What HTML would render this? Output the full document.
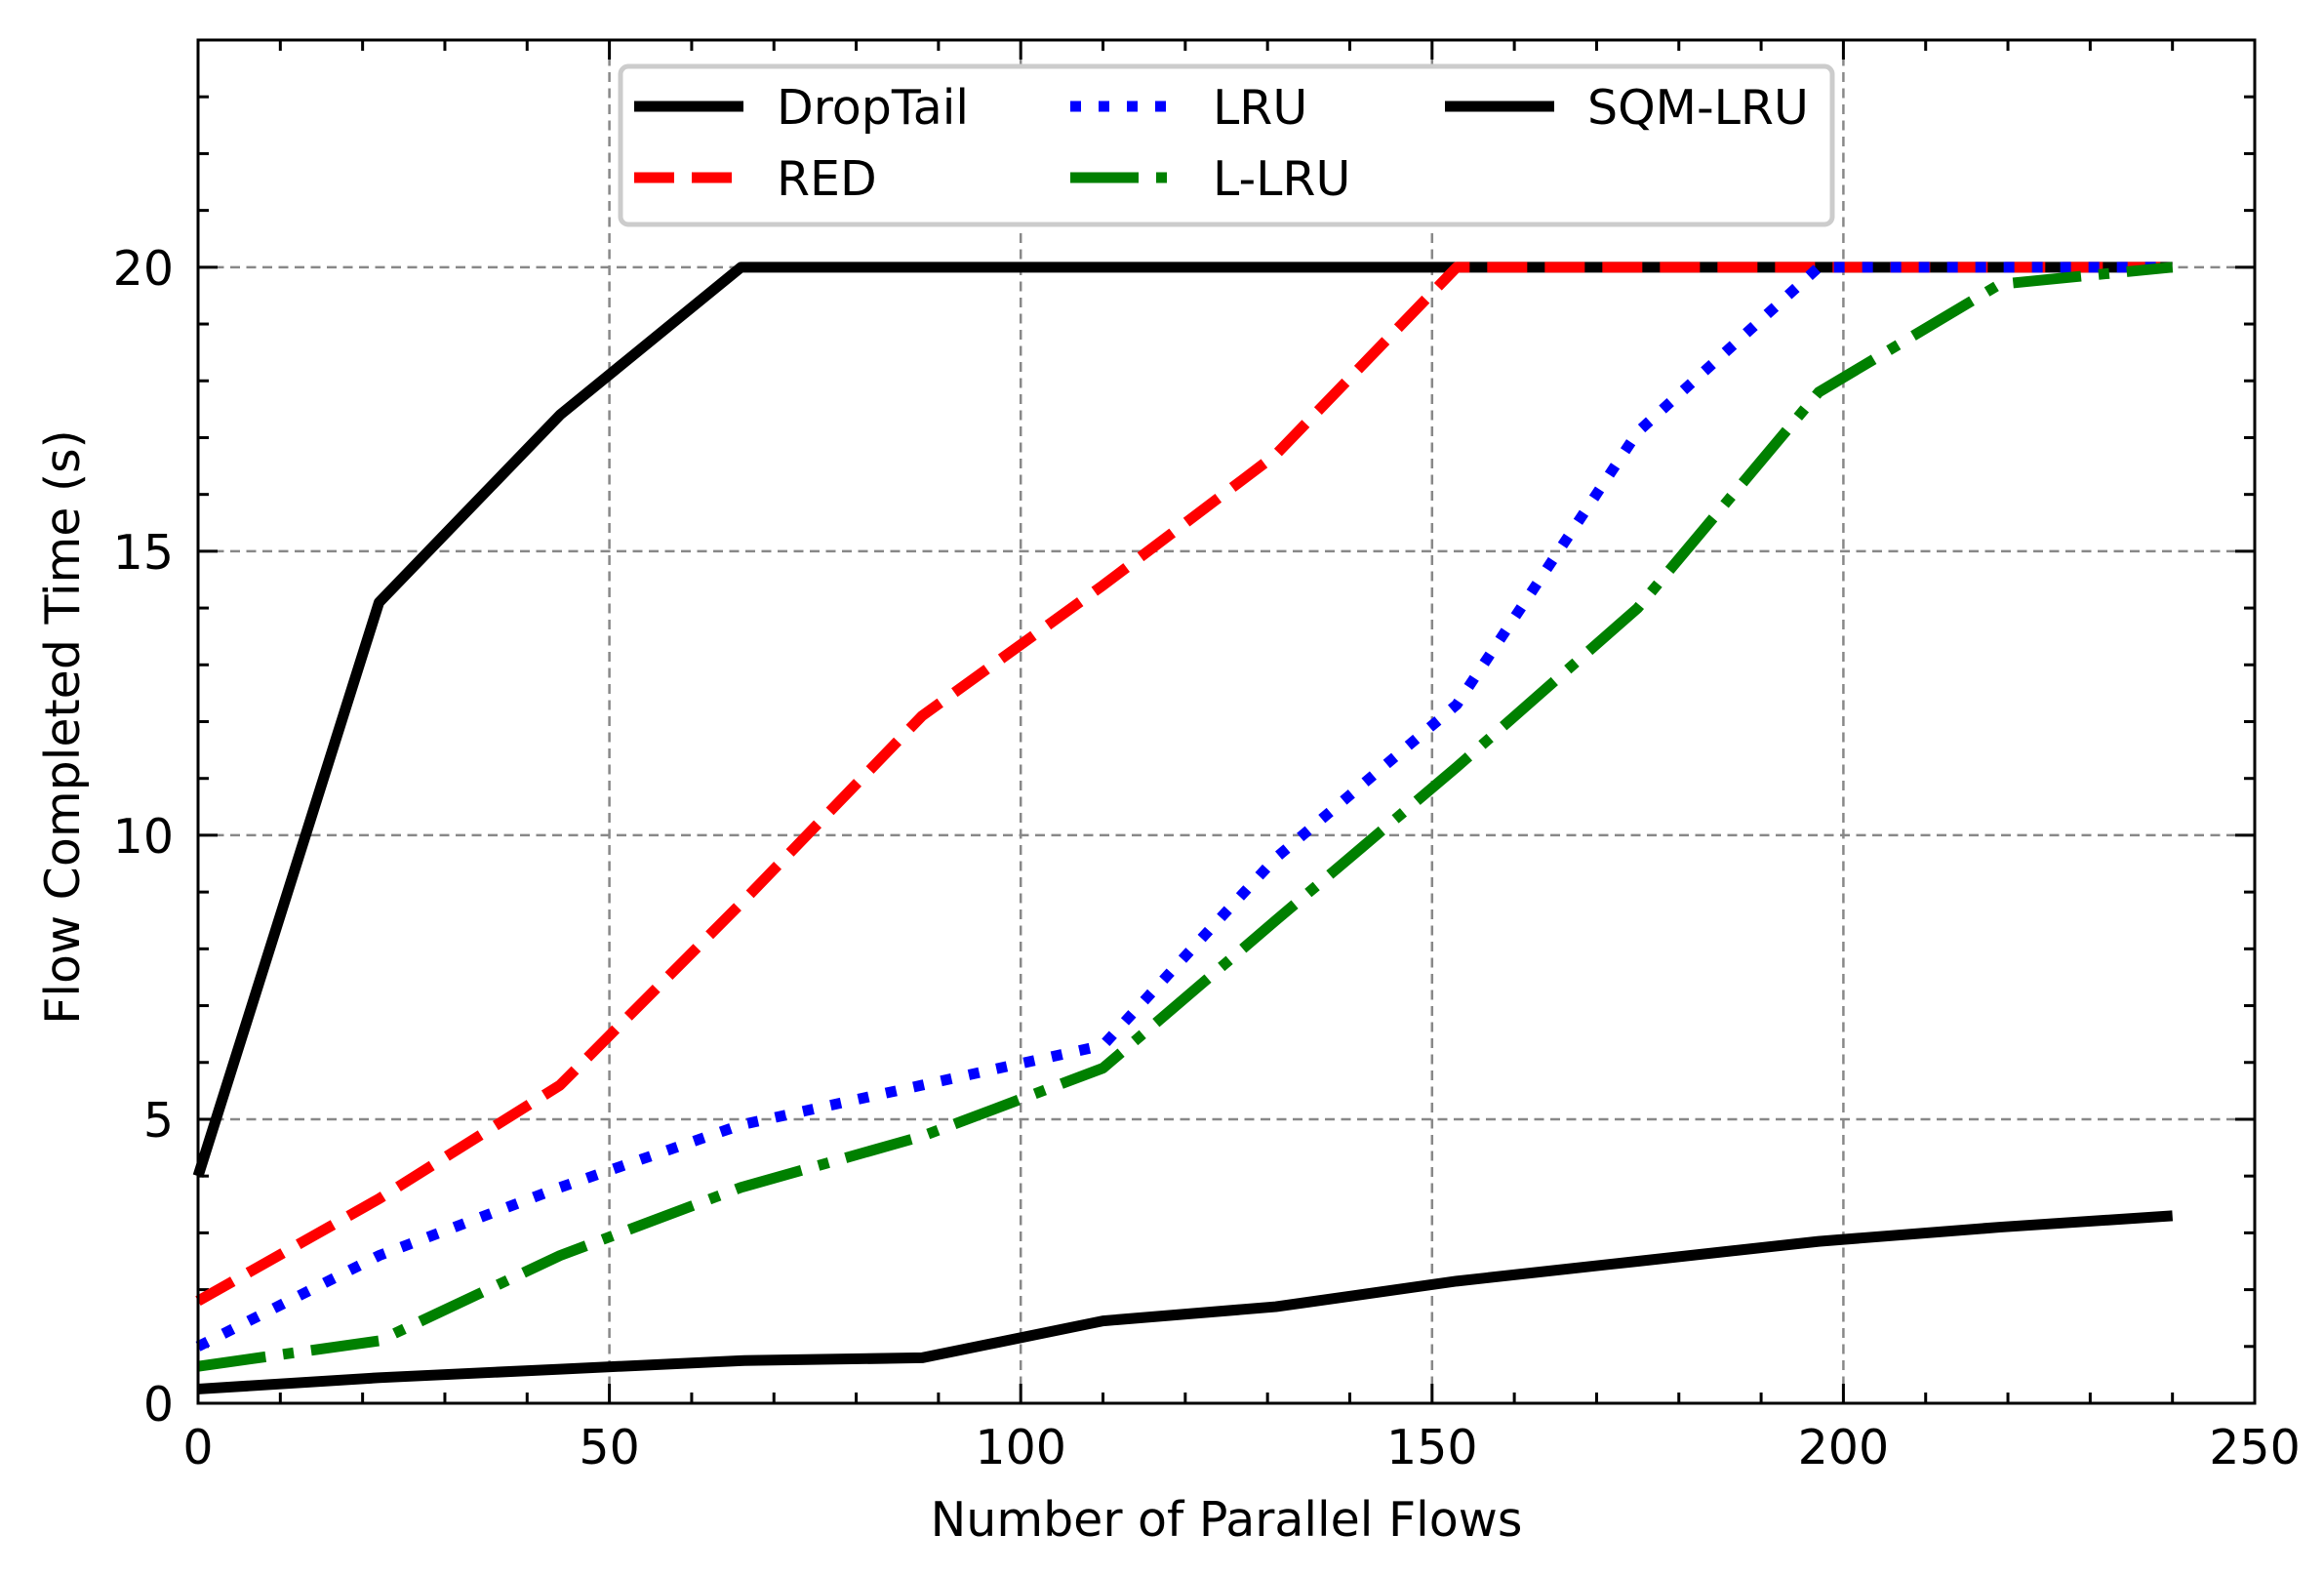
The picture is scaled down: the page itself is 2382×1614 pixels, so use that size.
<!DOCTYPE html>
<html><head><meta charset="utf-8"><style>html,body{margin:0;padding:0;background:#fff}svg{display:block}text{font-family:"DejaVu Sans","Liberation Sans",sans-serif;fill:#000}</style></head>
<body>
<svg id="s" width="2382" height="1614" xmlns="http://www.w3.org/2000/svg"></svg>
<script>
const L=203,R=2311,T=41,B=1438;
const X=v=>L+v*(R-L)/250, Y=v=>B-v*(B-T)/24;
let h='';
for(let v=50;v<250;v+=50)h+=`<line x1="${X(v)}" y1="${T}" x2="${X(v)}" y2="${B}" stroke="#888" stroke-width="2.5" stroke-dasharray="10,6.5"/>`;
for(let v=5;v<=20;v+=5)h+=`<line x1="${L}" y1="${Y(v)}" x2="${R}" y2="${Y(v)}" stroke="#888" stroke-width="2.5" stroke-dasharray="10,6.5"/>`;
for(let v=0;v<=250;v+=10){const M=v%50==0,l=M?20:11,x=X(v);h+=`<line x1="${x}" y1="${B}" x2="${x}" y2="${B-l}" stroke="#000" stroke-width="3"/><line x1="${x}" y1="${T}" x2="${x}" y2="${T+l}" stroke="#000" stroke-width="3"/>`;if(M)h+=`<text x="${x}" y="1500" font-size="49" text-anchor="middle">${v}</text>`;}
for(let v=0;v<=24;v+=1){const M=v%5==0,l=M?20:11,y=Y(v);h+=`<line x1="${L}" y1="${y}" x2="${L+l}" y2="${y}" stroke="#000" stroke-width="3"/><line x1="${R}" y1="${y}" x2="${R-l}" y2="${y}" stroke="#000" stroke-width="3"/>`;if(M&&v<=20)h+=`<text x="178" y="${y+18}" font-size="49" text-anchor="end">${v}</text>`;}
const xs=[0,22,44,66,88,110,131,153,175,197,219,240];
const S=[
 ['#000','',[4.0,14.1,17.4,20,20,20,20,20,20,20,20,20]],
 ['#f00','41,18',[1.8,3.6,5.6,8.8,12.1,14.4,16.7,20,20,20,20,20]],
 ['#00f','11,18',[1.0,2.6,3.8,4.9,5.6,6.3,9.6,12.3,17.1,20,20,20]],
 ['#008000','70,18,11,18',[0.65,1.1,2.6,3.8,4.7,5.9,8.5,11.2,14.0,17.8,19.7,20]],
 ['#000','',[0.25,0.45,0.6,0.75,0.8,1.45,1.7,2.15,2.5,2.85,3.1,3.3]]];
for(const [c,d,ys] of S){h+=`<polyline fill="none" stroke="${c}" stroke-width="11" stroke-linejoin="round" ${d?`stroke-dasharray="${d}"`:''} points="${xs.map((x,i)=>X(x)+','+Y(ys[i])).join(' ')}"/>`;}
h+=`<rect x="${L}" y="${T}" width="${R-L}" height="${B-T}" fill="none" stroke="#000" stroke-width="3"/>`;
h+=`<rect x="636" y="68" width="1242" height="162" rx="8" fill="#fff" stroke="#ccc" stroke-width="5"/>`;
const lg=[[650,109,'#000','','DropTail'],[650,182,'#f00','41,18','RED'],[1097,109,'#00f','11,18','LRU'],[1097,182,'#008000','70,18,11,18','L-LRU'],[1481,109,'#000','','SQM-LRU']];
for(const [x,y,c,d,t] of lg){h+=`<line x1="${x}" y1="${y}" x2="${x+112}" y2="${y}" stroke="${c}" stroke-width="11" ${d?`stroke-dasharray="${d}"`:''}/><text x="${x+146}" y="${y+18}" font-size="49">${t}</text>`;}
h+=`<text x="1257" y="1574" font-size="49" text-anchor="middle">Number of Parallel Flows</text>`;
h+=`<text transform="translate(81,745) rotate(-90)" font-size="49" text-anchor="middle">Flow Completed Time (s)</text>`;
document.getElementById('s').innerHTML=h;
</script>
</body></html>
